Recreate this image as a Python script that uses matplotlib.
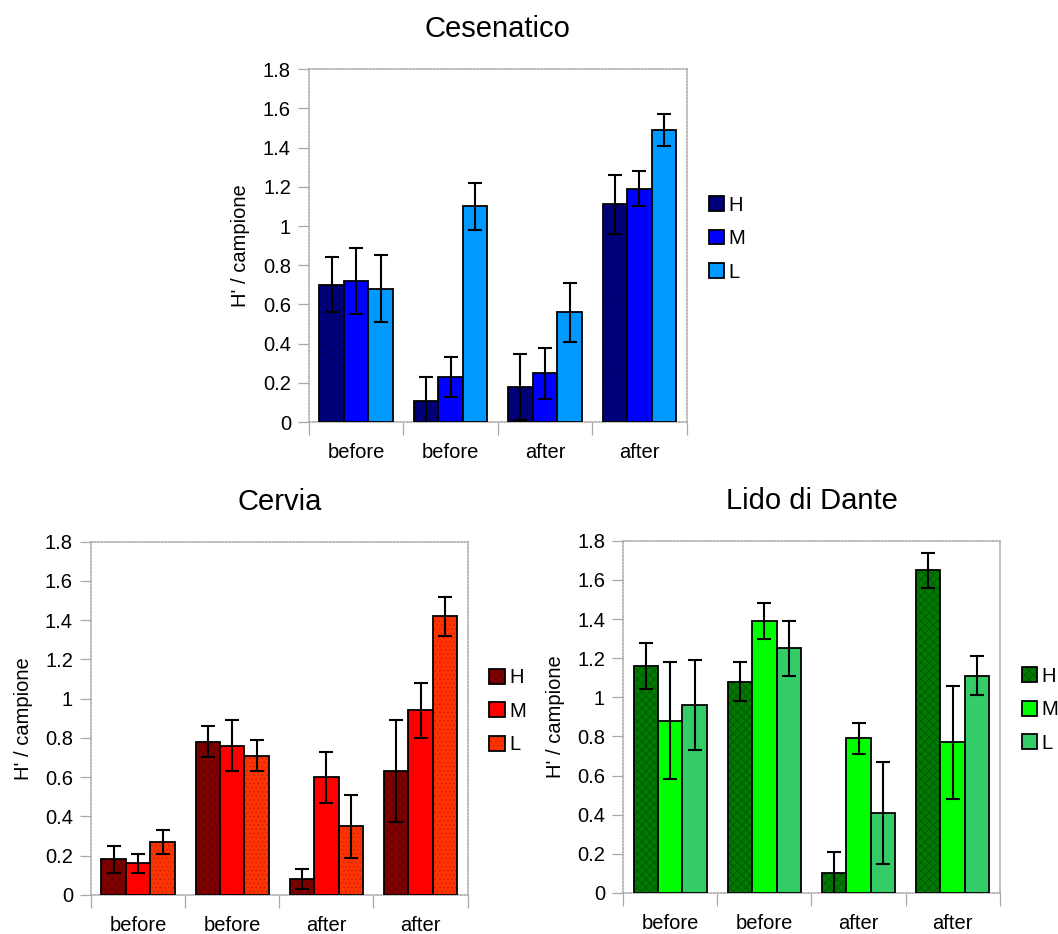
import matplotlib.pyplot as plt
import numpy as np
from matplotlib.patches import Patch
from matplotlib.ticker import FuncFormatter, FixedLocator
from matplotlib.legend_handler import HandlerTuple

plt.rcParams['font.family'] = ['Liberation Sans', 'DejaVu Sans']
plt.rcParams['hatch.linewidth'] = 0.6

fasi = ['before', 'before', 'after', 'after']
livelli = ['H', 'M', 'L']

# Cesenatico: H' medio per campione e errore
ces_H = [0.70, 0.11, 0.18, 1.11]
ces_M = [0.72, 0.23, 0.25, 1.19]
ces_L = [0.68, 1.10, 0.56, 1.49]
ces_H_err = [0.14, 0.12, 0.17, 0.15]
ces_M_err = [0.17, 0.10, 0.13, 0.09]
ces_L_err = [0.17, 0.12, 0.15, 0.08]

# Cervia
cer_H = [0.18, 0.78, 0.08, 0.63]
cer_M = [0.16, 0.76, 0.60, 0.94]
cer_L = [0.27, 0.71, 0.35, 1.42]
cer_H_err = [0.07, 0.08, 0.05, 0.26]
cer_M_err = [0.05, 0.13, 0.13, 0.14]
cer_L_err = [0.06, 0.08, 0.16, 0.10]

# Lido di Dante
lid_H = [1.16, 1.08, 0.10, 1.65]
lid_M = [0.88, 1.39, 0.79, 0.77]
lid_L = [0.96, 1.25, 0.41, 1.11]
lid_H_err = [0.12, 0.10, 0.11, 0.09]
lid_M_err = [0.30, 0.09, 0.08, 0.29]
lid_L_err = [0.23, 0.14, 0.26, 0.10]

GRIGIO = '#a8a8a8'
LARGH = 0.26


def pannello(ax, titolo, serie, errori, colori, trame, leg_y):
    x = np.arange(len(fasi))
    maniglie = []
    for i, (val, err, (fc, hc), trama) in enumerate(zip(serie, errori, colori, trame)):
        pos = x + (i - 1) * LARGH
        if trama:
            # riempimento con trama, poi il bordo nero sopra
            ax.bar(pos, val, LARGH, color=fc, edgecolor=hc, hatch=trama,
                   linewidth=0, zorder=2)
            ax.bar(pos, val, LARGH, fill=False, edgecolor='black',
                   linewidth=1.3, zorder=3)
            h = (Patch(facecolor=fc, edgecolor=hc, hatch=trama, linewidth=0),
                 Patch(fill=False, edgecolor='black', linewidth=1.3))
        else:
            ax.bar(pos, val, LARGH, color=fc, edgecolor='black',
                   linewidth=1.3, zorder=3)
            h = Patch(facecolor=fc, edgecolor='black', linewidth=1.3)
        ax.errorbar(pos, val, yerr=err, fmt='none', ecolor='black',
                    elinewidth=1.5, capsize=5, capthick=1.5, zorder=4)
        maniglie.append(h)

    ax.set_xlim(-0.5, len(fasi) - 0.5)
    ax.set_ylim(0, 1.8)
    ax.set_yticks(np.arange(0, 1.81, 0.2))
    ax.yaxis.set_major_formatter(FuncFormatter(lambda v, p: '%g' % round(v, 1)))
    ax.tick_params(axis='y', length=8, width=0.9, color=GRIGIO,
                   labelsize=14.5, pad=5)

    # tacche tra i gruppi, etichette al centro
    ax.xaxis.set_major_locator(FixedLocator(np.arange(-0.5, len(fasi), 1.0)))
    ax.xaxis.set_minor_locator(FixedLocator(x))
    ax.set_xticklabels([], minor=False)
    ax.set_xticklabels(fasi, minor=True)
    ax.tick_params(axis='x', which='major', length=9, width=0.9, color=GRIGIO)
    ax.tick_params(axis='x', which='minor', length=0, labelsize=14.5, pad=15)

    for s in ax.spines.values():
        s.set_color(GRIGIO)
        s.set_linestyle((0, (1, 1.2)))
        s.set_linewidth(1.1)

    ax.set_ylabel("H' / campione", fontsize=14.5)
    ax.yaxis.set_label_coords(-0.155, 0.5)
    ax.set_title(titolo, fontsize=21, pad=23)

    ax.legend(maniglie, livelli, loc='center left', bbox_to_anchor=(1.058, leg_y),
              frameon=False, fontsize=14.5, handlelength=0.75, handleheight=0.75,
              handletextpad=0.25, labelspacing=0.72, borderaxespad=0, borderpad=0,
              handler_map={tuple: HandlerTuple(ndivide=1, pad=0)})


fig = plt.figure(figsize=(10.58, 9.34), dpi=100)

ax1 = fig.add_axes([0.292, 0.548, 0.357, 0.378])
pannello(ax1, 'Cesenatico',
         [ces_H, ces_M, ces_L], [ces_H_err, ces_M_err, ces_L_err],
         [('#000080', '#000060'), ('#0000ff', None), ('#0099ff', None)],
         ['xxxx', None, None], 0.52)

ax2 = fig.add_axes([0.086, 0.042, 0.356, 0.378])
pannello(ax2, 'Cervia',
         [cer_H, cer_M, cer_L], [cer_H_err, cer_M_err, cer_L_err],
         [('#800000', '#640000'), ('#ff0000', None), ('#ff3300', '#c82400')],
         ['xxxx', None, '....'], 0.52)

ax3 = fig.add_axes([0.589, 0.044, 0.356, 0.377])
pannello(ax3, 'Lido di Dante',
         [lid_H, lid_M, lid_L], [lid_H_err, lid_M_err, lid_L_err],
         [('#007a00', '#005800'), ('#00ff00', None), ('#33cc66', None)],
         ['xxxx', None, None], 0.52)

fig.savefig('out.png', dpi=100)
